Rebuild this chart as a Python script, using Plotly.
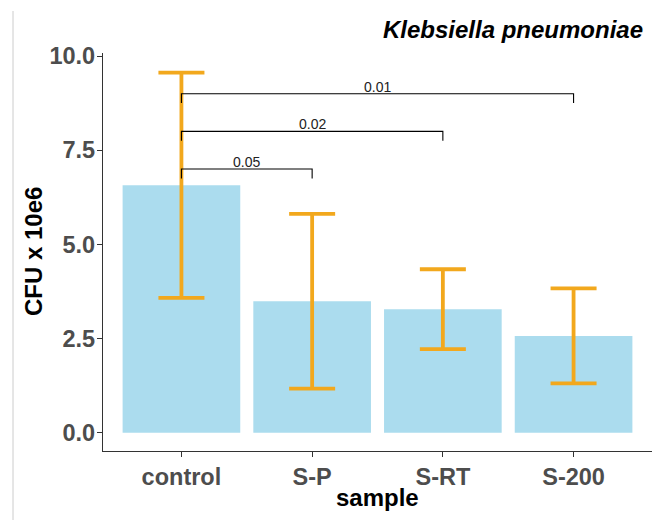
import plotly.graph_objects as go

categories = ["control", "S-P", "S-RT", "S-200"]
means = [6.57, 3.49, 3.28, 2.57]
sds = [2.99, 2.32, 1.06, 1.26]
y_ticks = [0.0, 2.5, 5.0, 7.5, 10.0]
y_tick_labels = ["0.0", "2.5", "5.0", "7.5", "10.0"]

# significance brackets: (from, to, height, label)
bracket_from = ["control", "control", "control"]
bracket_to = ["S-P", "S-RT", "S-200"]
bracket_y = [7.0, 8.0, 9.0]
bracket_labels = ["0.05", "0.02", "0.01"]
tip = 0.25

# page body has an 8px margin; compensate so the picture lines up
OFF = 8
W, H = 670 - OFF, 520 - OFF
ML, MR, MT, MB = 103 - OFF, 18, 53 - OFF, 69
FONT = "Liberation Sans, Arial, sans-serif"

xs = list(range(len(categories)))

fig = go.Figure()
fig.add_trace(go.Bar(
    x=xs, y=means, width=0.9,
    marker=dict(color="#ABDCEE", line=dict(width=0)),
    error_y=dict(type="data", array=sds, visible=True,
                 color="#F2A81D", thickness=3.8, width=23),
    showlegend=False, hoverinfo="skip",
))

bx, by = [], []
for f, t, h, lab in zip(bracket_from, bracket_to, bracket_y, bracket_labels):
    i, j = categories.index(f), categories.index(t)
    bx += [i, i, j, j, None]
    by += [h - tip, h, h, h - tip, None]
    fig.add_annotation(x=(i + j) / 2, y=h, xref="x", yref="y", text=lab,
                       showarrow=False, yanchor="bottom", yshift=-3,
                       font=dict(family=FONT, size=14, color="#222"))
fig.add_trace(go.Scatter(x=bx, y=by, mode="lines",
                         line=dict(color="black", width=1.1),
                         showlegend=False, hoverinfo="skip"))

axis_common = dict(showgrid=False, zeroline=False, showline=True,
                   linecolor="#333", linewidth=1.2, ticks="outside",
                   ticklen=5, tickcolor="#333", tickwidth=1.2,
                   tickfont=dict(family=FONT, size=23.5, color="#4D4D4D",
                                 weight="bold"))

fig.update_layout(
    width=W, height=H,
    margin=dict(l=ML, r=MR, t=MT, b=MB, autoexpand=False),
    plot_bgcolor="white", paper_bgcolor="white",
    xaxis=dict(range=[-0.6, 3.6], tickvals=xs, ticktext=categories,
               **axis_common),
    yaxis=dict(range=[-0.485, 10.08], tickvals=y_ticks,
               ticktext=y_tick_labels, ticklabelstandoff=-3, **axis_common),
    title=dict(text="<b><i>Klebsiella pneumoniae</i></b>",
               x=(643 - OFF) / W, xanchor="right", y=1 - (30 - OFF) / H,
               yanchor="middle",
               font=dict(family=FONT, size=24, color="black")),
)

pw = W - ML - MR
ph = H - MT - MB
fig.add_annotation(text="<b>sample</b>", xref="paper", yref="paper",
                   x=0.5, y=(H - MB - (497 - OFF)) / ph, showarrow=False,
                   xanchor="center", yanchor="middle",
                   font=dict(family=FONT, size=24, color="black"))
fig.add_annotation(text="<b>CFU x 10e6</b>", xref="paper", yref="paper",
                   x=(33 - OFF - ML) / pw, y=0.5, showarrow=False,
                   textangle=-90, xanchor="center", yanchor="middle",
                   font=dict(family=FONT, size=24, color="black"))
fig.add_shape(type="line", xref="paper", yref="paper",
              x0=(13 - OFF - ML) / pw, x1=(13 - OFF - ML) / pw,
              y0=(H - MB - (11 - OFF)) / ph, y1=(H - MB - (520 - OFF)) / ph,
              line=dict(color="#CCCCCC", width=1))

fig.write_html("out.html")
